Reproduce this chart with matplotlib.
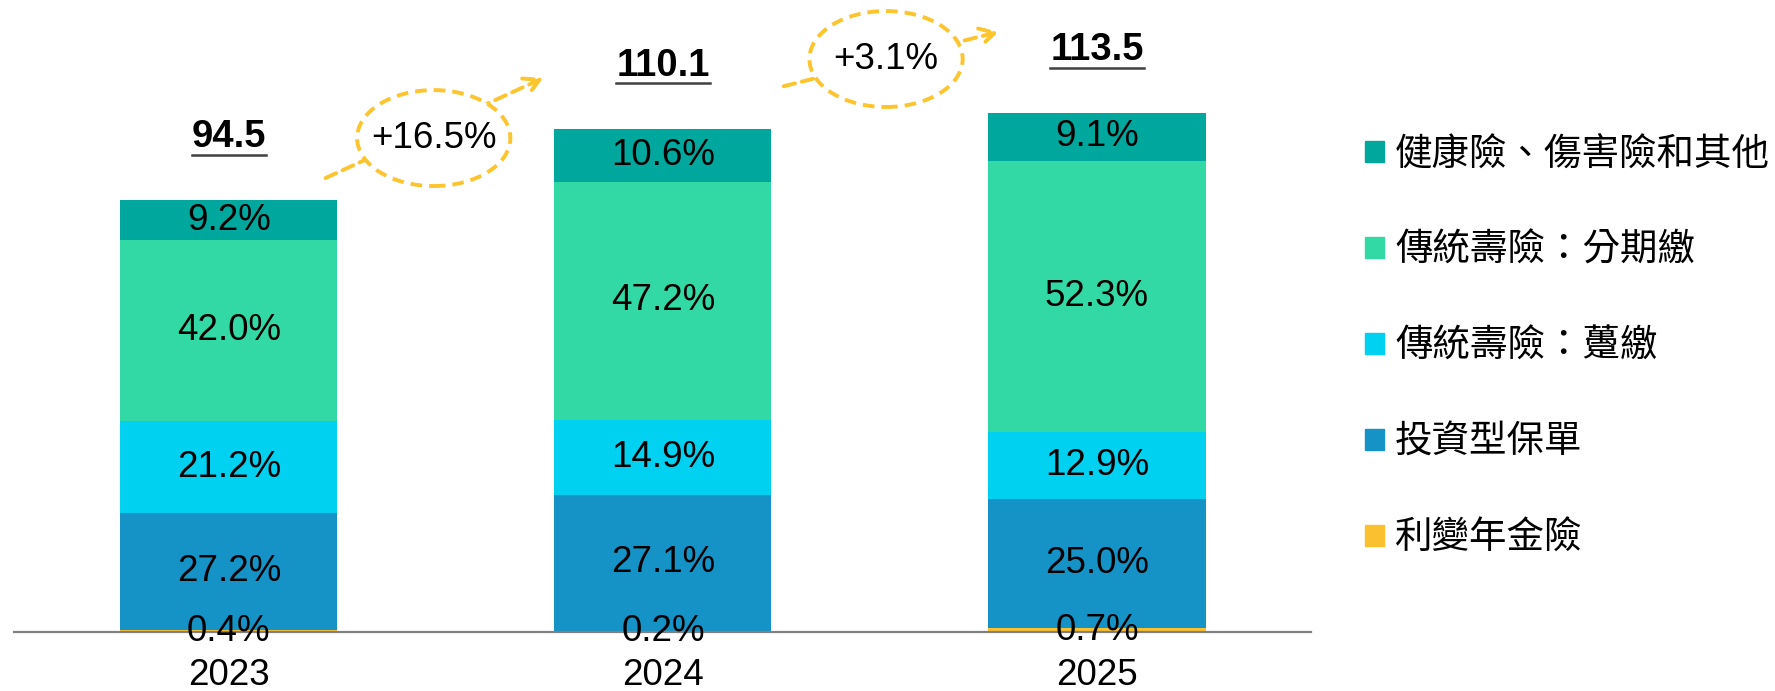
import matplotlib.pyplot as plt
from matplotlib.patches import Ellipse, Patch
import numpy as np

years = ['2023', '2024', '2025']
totals = [94.5, 110.1, 113.5]
growth = ['+16.5%', '+3.1%']

# shares in %, bottom to top
categories = ['利變年金險', '投資型保單', '傳統壽險：躉繳', '傳統壽險：分期繳', '健康險、傷害險和其他']
shares = [
    [0.4, 0.2, 0.7],
    [27.2, 27.1, 25.0],
    [21.2, 14.9, 12.9],
    [42.0, 47.2, 52.3],
    [9.2, 10.6, 9.1],
]
colors = ['#FBC02D', '#1592C6', '#00D1F0', '#33D9A4', '#00A79D']

num_font = ['Liberation Sans', 'Noto Sans CJK TC']
cjk_font = ['Noto Sans CJK TC', 'DejaVu Sans']
gold = '#FCC42D'

fig = plt.figure(figsize=(17.75, 6.91), dpi=100)
ax = fig.add_axes([14 / 1775, 59 / 691, 1297 / 1775, 594 / 691])

x = np.arange(len(years))
tot = np.array(totals)
bottom = np.zeros(len(years))
for cat, sh, col in zip(categories, shares, colors):
    h = tot * np.array(sh) / 100
    ax.bar(x, h, 0.5, bottom=bottom, color=col, label=cat)
    for xi, b, hi, s in zip(x, bottom, h, sh):
        ax.text(xi, b + hi / 2, f'{s:.1f}%', ha='center', va='center',
                fontsize=26.5, family=num_font, color='black')
    bottom += h

ax.set_xlim(-0.495, 2.493)
ax.set_ylim(0, 130)
for s in ['top', 'left', 'right']:
    ax.spines[s].set_visible(False)
ax.spines['bottom'].set_color('#808080')
ax.spines['bottom'].set_linewidth(1.6)
ax.set_yticks([])
ax.set_xticks(x)
ax.set_xticklabels(years, fontsize=26.5, family=num_font)
ax.tick_params(axis='x', length=0, pad=18.5)

# totals with underline
fig.canvas.draw()
renderer = fig.canvas.get_renderer()
for xi, t in zip(x, totals):
    txt = ax.text(xi, t + 9.9, f'{t:.1f}', ha='center', va='bottom',
                  fontsize=27.5, fontweight='bold', family=num_font)
    bb = txt.get_window_extent(renderer)
    inv = ax.transData.inverted()
    (x0, _), (x1, _) = inv.transform([(bb.x0, 0), (bb.x1, 0)])
    ax.plot([x0, x1], [t + 10, t + 10], color='#404040', lw=1.8, clip_on=False)

# growth arrows with dashed ellipses
arrows = [((0.217, 99.1), (0.73, 121.5)), ((1.272, 119.3), (1.78, 131.5))]
ell_centers = [(0.472, 108.1), (1.514, 125.4)]
for (p0, p1), c, g in zip(arrows, ell_centers, growth):
    ax.annotate('', xy=p1, xytext=p0, annotation_clip=False,
                arrowprops=dict(arrowstyle='->,head_length=1.1,head_width=0.6',
                                color=gold, lw=2.8, linestyle=(0, (3, 1.8))))
    e = Ellipse(c, 0.353, 21, facecolor='white', edgecolor=gold, lw=2.8,
                linestyle=(0, (3, 1.8)), zorder=5, clip_on=False)
    ax.add_patch(e)
    ax.text(c[0], c[1], g, ha='center', va='center', fontsize=26.5,
            family=num_font, zorder=6)

handles = [Patch(color=c) for c in colors][::-1]
leg = fig.legend(handles, categories[::-1], loc='upper left',
                 bbox_to_anchor=(1365 / 1775, 1 - 135 / 691), frameon=False,
                 borderpad=0, borderaxespad=0,
                 handlelength=0.5, handleheight=0.5, handletextpad=0.3,
                 labelspacing=1.52, prop={'family': cjk_font, 'size': 27})

fig.savefig('out.png', dpi=100)
